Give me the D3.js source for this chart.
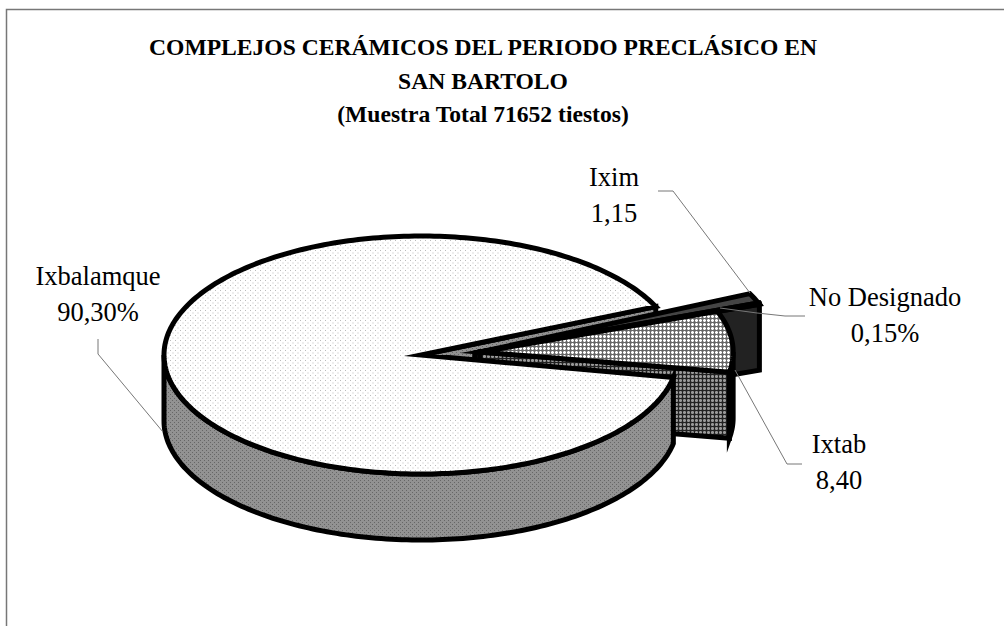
<!DOCTYPE html>
<html lang="es">
<head>
  <meta charset="UTF-8">
  <title>Complejos cerámicos</title>
  <script src="https://d3js.org/d3.v7.min.js"></script>
  <style>
    body { margin: 0; background: #fff; }
    text { font-family: "Liberation Serif", serif; fill: #000; }
    .title { font-weight: bold; font-size: 23.6px; text-anchor: middle; }
    .label { font-size: 26.5px; text-anchor: middle; }
    .leader { fill: none; stroke: #777; stroke-width: 1; }
    .face { stroke: #000; stroke-width: 5; stroke-linejoin: miter; stroke-miterlimit: 20; }
  </style>
</head>
<body>
  <svg id="chart" width="1004" height="626"></svg>
  <script>
    const categories = ['Ixim', 'No Designado', 'Ixtab', 'Ixbalamque'];
    const shares = [1.15, 0.15, 8.40, 90.30];
    const valueLabels = ['1,15', '0,15%', '8,40', '90,30%'];
    const titleLines = ['COMPLEJOS CERÁMICOS DEL PERIODO PRECLÁSICO EN', 'SAN BARTOLO', '(Muestra Total 71652 tiestos)'];

    const svg = d3.select('#chart');
    const defs = svg.append('defs');

    // fill patterns, the original is a black and white print
    function dots(id, bg, dot, size) {
      const p = defs.append('pattern').attr('id', id).attr('patternUnits', 'userSpaceOnUse')
        .attr('width', size).attr('height', size);
      p.append('rect').attr('width', size).attr('height', size).attr('fill', bg);
      p.append('rect').attr('x', 0).attr('y', 0).attr('width', 1).attr('height', 1).attr('fill', dot);
      p.append('rect').attr('x', size / 2).attr('y', size / 2).attr('width', 1).attr('height', 1).attr('fill', dot);
    }
    function mesh(id, bg, light, dark, size) {
      const p = defs.append('pattern').attr('id', id).attr('patternUnits', 'userSpaceOnUse')
        .attr('width', size).attr('height', size);
      p.append('rect').attr('width', size).attr('height', size).attr('fill', bg);
      p.append('rect').attr('width', size).attr('height', 1).attr('fill', light);
      p.append('rect').attr('width', 1).attr('height', size).attr('fill', light);
      p.append('rect').attr('y', size / 2).attr('width', size).attr('height', 1).attr('fill', dark);
      p.append('rect').attr('x', size / 2).attr('width', 1).attr('height', size).attr('fill', dark);
    }
    dots('mainTop', '#fff', '#bbb', 5);
    dots('mainWall', '#929292', '#666', 4);
    mesh('ixtabTop', '#b0b0b0', '#fff', '#666', 4);
    mesh('ixtabWall', '#707070', '#999', '#222', 4);

    // frame, only top and left are visible
    svg.append('path').attr('d', 'M6.5,626V9.5H1004').attr('fill', 'none').attr('stroke', '#777').attr('stroke-width', 1.5);

    const titleY = d3.scalePoint().domain(d3.range(titleLines.length)).range([55, 122]);
    svg.selectAll('.title').data(titleLines).enter().append('text')
      .attr('class', 'title').attr('x', 483).attr('y', (d, i) => titleY(i)).text(d => d);

    // pie geometry
    const radiusX = 257, radiusY = 119, depth = 66;
    const startAngle = 65 * Math.PI / 180;
    const slices = d3.pie().sort(null).startAngle(startAngle).endAngle(startAngle + 2 * Math.PI)(shares);

    // where each slice sits once pulled out: centre, radius factor, small turn in degrees
    const centreX = [475, 475, 480, 421];
    const centreY = [353, 353, 352, 355];
    const radiusK = [1.18, 1.18, 0.985, 1];
    const turnDeg = [0, 0, 0, 1];

    function project(i) {
      const x = d3.scaleLinear().domain([-1, 1]).range([centreX[i] - radiusX * radiusK[i], centreX[i] + radiusX * radiusK[i]]);
      const y = d3.scaleLinear().domain([-1, 1]).range([centreY[i] + radiusY * radiusK[i], centreY[i] - radiusY * radiusK[i]]);
      return {
        centre: (drop) => [x(0), y(0) + drop],
        rim: (a, drop) => [x(Math.sin(a)), y(Math.cos(a)) + drop]
      };
    }
    function arcAngles(a0, a1) {
      const n = Math.max(2, Math.ceil((a1 - a0) / 0.02));
      return d3.range(n + 1).map(k => a0 + (a1 - a0) * k / n);
    }
    const line = d3.line();
    const turned = (i) => {
      const t = turnDeg[i] * Math.PI / 180;
      return { startAngle: slices[i].startAngle + t, endAngle: slices[i].endAngle + t };
    };

    function topPath(i) {
      const p = project(i), s = turned(i);
      return line([p.centre(0)].concat(arcAngles(s.startAngle, s.endAngle).map(a => p.rim(a, 0)))) + 'Z';
    }
    function radialPath(i, a) {
      const p = project(i);
      return line([p.centre(0), p.rim(a, 0), p.rim(a, depth), p.centre(depth)]) + 'Z';
    }
    // outer wall, only the front half of the rim shows
    function wallPath(i) {
      const p = project(i), s = turned(i);
      const a0 = Math.max(s.startAngle, Math.PI / 2), a1 = Math.min(s.endAngle, 3 * Math.PI / 2);
      if (a1 <= a0) return null;
      const angles = arcAngles(a0, a1);
      return line(angles.map(a => p.rim(a, 0)).concat(angles.slice().reverse().map(a => p.rim(a, depth)))) + 'Z';
    }
    function face(d, fill) {
      if (d) svg.append('path').attr('class', 'face').attr('d', d).attr('fill', fill);
    }

    const IXIM = 0, NODES = 1, IXTAB = 2, MAIN = 3;

    // paint order is the odd one of the original chart
    face(radialPath(MAIN, turned(MAIN).endAngle), 'url(#mainWall)');
    face(radialPath(IXIM, turned(IXIM).endAngle), '#222');
    face(radialPath(NODES, turned(NODES).endAngle), '#222');
    face(radialPath(IXTAB, turned(IXTAB).endAngle), 'url(#ixtabWall)');
    face(wallPath(IXTAB), 'url(#ixtabWall)');
    face(wallPath(MAIN), 'url(#mainWall)');
    face(topPath(MAIN), 'url(#mainTop)');
    face(topPath(IXIM), '#444');
    face(topPath(NODES), '#000');
    face(topPath(IXTAB), 'url(#ixtabTop)');

    // leader lines
    const leaderPts = [
      [[658, 191], [673, 191], [750, 293]],
      [[805, 316], [785, 316], [757, 313], [720, 308]],
      [[802, 464], [787, 464], [735, 370]],
      [[98, 339], [98, 354], [163, 432]]
    ];
    svg.selectAll('.leader').data(leaderPts).enter().append('path')
      .attr('class', 'leader').attr('d', d => line(d));

    // labels
    const labelX = [614, 885, 839, 98];
    const labelY = [186, 306, 453, 285];
    categories.forEach((c, i) => {
      const t = svg.append('text').attr('class', 'label').attr('x', labelX[i]).attr('y', labelY[i]);
      t.append('tspan').attr('x', labelX[i]).text(c);
      t.append('tspan').attr('x', labelX[i]).attr('dy', 36).text(valueLabels[i]);
    });
  </script>
</body>
</html>
